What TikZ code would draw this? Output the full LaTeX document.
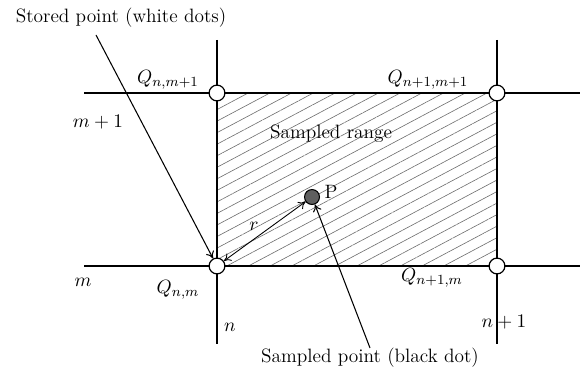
\documentclass[tikz,border=0pt]{standalone}
\usepackage{amsmath}
\usepackage{tikz}
\usetikzlibrary{arrows.meta, patterns.meta}
\definecolor{hatchgray}{RGB}{110,110,110}
\definecolor{dotgray}{RGB}{95,95,95}
\tikzset{
  gridline/.style={line width=1.2pt, color=black},
  whitedot/.style={circle, draw=black, fill=white,
    minimum size=9pt, inner sep=0pt, line width=0.7pt},
  blackdot/.style={circle, draw=black, fill=dotgray,
    minimum size=8.5pt, inner sep=0pt, line width=0.6pt},
  arrow/.style={-{To[length=4pt,width=5pt]}, line width=0.6pt},
  dblarrow/.style={{To[length=4pt,width=5pt]}-{To[length=4pt,width=5pt]}, line width=0.5pt},
  lbl/.style={inner sep=0pt, font=\fontsize{11}{13}\selectfont},
  hatch/.style={pattern={Lines[angle=28,distance=5.8pt,line width=0.35pt]},
    pattern color=hatchgray}
}

\begin{document}
\begin{tikzpicture}[x=0.02cm, y=-0.02cm]
  \useasboundingbox (0,0) rectangle (584,375);

  % Sampled range
  \fill[hatch] (217,93) rectangle (497,266);

  % Grid lines
  \draw[gridline] (84,93) -- (580,93);
  \draw[gridline] (84,266) -- (580,266);
  \draw[gridline] (217,40) -- (217,344);
  \draw[gridline] (497,40) -- (497,344);

  % Nodes
  \node[whitedot] (q00) at (217,266) {};
  \node[whitedot] (q01) at (217,93) {};
  \node[whitedot] (q11) at (497,93) {};
  \node[whitedot] (q10) at (497,266) {};
  \node[blackdot] (p) at (312,197) {};

  % Labels
  \node[lbl] (storedlbl) at (121,18) {Stored point (white dots)};
  \node[lbl] (sampledlbl) at (370,358) {Sampled point (black dot)};
  \node[lbl] (rangelbl) at (331,134) {Sampled range};
  \node[lbl] (plbl) at (331,192) {P};
  \node[lbl] (rlbl) at (254,226) {$r$};
  \node[lbl] (lq01) at (168,80) {$Q_{n,m+1}$};
  \node[lbl] (lq11) at (428,80) {$Q_{n+1,m+1}$};
  \node[lbl] (lq00) at (178,290) {$Q_{n,m}$};
  \node[lbl] (lq10) at (432,278) {$Q_{n+1,m}$};
  \node[lbl] (lm1) at (98,122) {$m+1$};
  \node[lbl] (lm) at (83,282) {$m$};
  \node[lbl] (ln) at (230,327) {$n$};
  \node[lbl] (ln1) at (504,322) {$n+1$};
  \coordinate (st) at (96,35);

  % Paths
  \draw[arrow] (st) -- (q00);
  \draw[arrow] (sampledlbl.north) -- (p);
  \draw[dblarrow] (q00) -- (p);
\end{tikzpicture}
\end{document}
